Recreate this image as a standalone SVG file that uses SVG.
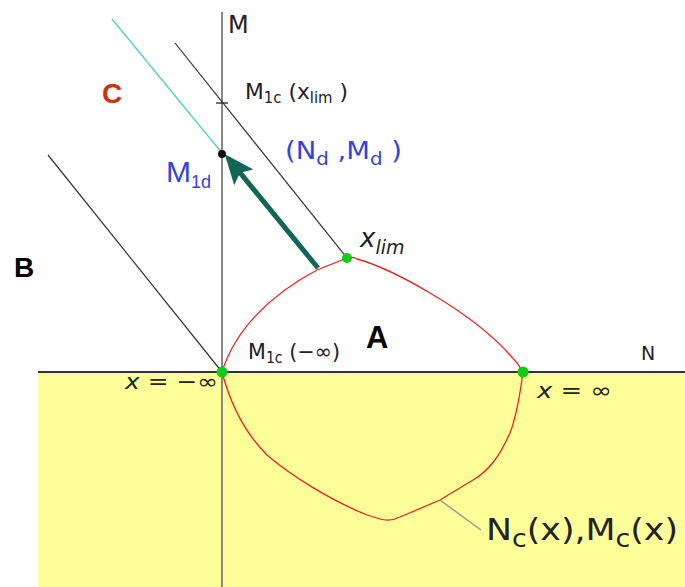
<svg xmlns="http://www.w3.org/2000/svg" width="685" height="587" viewBox="0 0 685 587">
<style>
text{font-family:"DejaVu Sans","Liberation Sans",sans-serif;fill:#222}
.blue{fill:#3344dd}
.b{font-family:"Liberation Sans",Arial,sans-serif;font-weight:bold}
.it{font-style:italic}
.diag{stroke:#333;stroke-width:1.2;fill:none}
.dot{fill:#11cc11}
</style>
<defs>
<marker id="ah" markerWidth="6" markerHeight="5" refX="5" refY="2.5" orient="auto" markerUnits="strokeWidth">
<path d="M0,0 L6,2.5 L0,5 L1.2,2.5 Z" fill="#116655"/>
</marker>
</defs>
<rect id="region" x="38" y="372" width="647" height="215" fill="#ffff99"/>
<g id="connectors">
<line id="axisM" x1="222" y1="12" x2="222" y2="587" stroke="#888" stroke-width="2"/>
<line id="axisN" x1="38" y1="372" x2="685" y2="372" stroke="#333" stroke-width="2"/>
<line id="lineB" class="diag" x1="48" y1="155" x2="222" y2="372"/>
<line id="lineUpper" class="diag" x1="175" y1="43" x2="347" y2="258"/>
<line id="lineC" x1="112" y1="19" x2="222" y2="153" stroke="#55cccc" stroke-width="1.3"/>
<line id="tick" x1="216" y1="103" x2="228" y2="103" stroke="#222" stroke-width="1.3"/>
<path id="curve" d="M222,372 C235,330 270,295 317,270 L347,258 Q352,256 357,259 C390,268 470,310 510,355 Q518,363 523,372 C520,395 515,420 510,433 C500,455 490,470 473,480 L440,500 L400,517 Q390,522 380,519 L367,515 C330,500 290,475 267,455 C250,438 232,410 222,372 Z" fill="none" stroke="#ee2222" stroke-width="1.3"/>
<line id="leader" x1="440" y1="500" x2="481" y2="530" stroke="#999" stroke-width="1.5"/>
<line id="arrow" x1="318" y1="268" x2="228" y2="158" stroke="#116655" stroke-width="5" marker-end="url(#ah)"/>
</g>
<g id="pt-xlim"><circle class="dot" cx="347" cy="258" r="5"/></g>
<g id="pt-minf"><circle class="dot" cx="222" cy="372" r="5.5"/></g>
<g id="pt-inf"><circle class="dot" cx="523" cy="372" r="5.5"/></g>
<g id="pt-M1d"><circle cx="222" cy="154" r="4" fill="#111"/></g>
<g id="labels">
<text x="228" y="33" font-size="24">M</text>
<text x="102" y="103" font-size="28" class="b" style="fill:#cc3311">C</text>
<text x="14" y="277" font-size="28" class="b" style="fill:#000">B</text>
<text x="366" y="348" font-size="31" class="b" style="fill:#000">A</text>
<text x="245" y="99" font-size="22" textLength="103" lengthAdjust="spacingAndGlyphs">M<tspan font-size="15" dy="4">1c</tspan><tspan dy="-4"> (x</tspan><tspan font-size="15" dy="4">lim</tspan><tspan dy="-4"> )</tspan></text>
<text x="285" y="159" font-size="25" class="blue" textLength="117" lengthAdjust="spacingAndGlyphs">(N<tspan font-size="18" dy="6">d</tspan><tspan dy="-6"> ,M</tspan><tspan font-size="18" dy="6">d</tspan><tspan dy="-6"> )</tspan></text>
<text x="166" y="182" font-size="30" class="blue" style="font-family:'Liberation Sans',Arial,sans-serif">M<tspan font-size="18" dy="6">1d</tspan></text>
<text x="360" y="247" font-size="26" class="it">x<tspan font-size="19" dy="7">lim</tspan></text>
<text x="248" y="359" font-size="22" textLength="92" lengthAdjust="spacingAndGlyphs">M<tspan font-size="15" dy="4">1c</tspan><tspan dy="-4"> (−∞)</tspan></text>
<text x="641" y="360" font-size="19">N</text>
<text x="125" y="389" font-size="21" textLength="93" lengthAdjust="spacingAndGlyphs"><tspan class="it">x</tspan> = −∞</text>
<text x="537" y="398" font-size="22" textLength="75" lengthAdjust="spacingAndGlyphs"><tspan class="it">x</tspan> = ∞</text>
<text x="486" y="540" font-size="31" textLength="192" lengthAdjust="spacingAndGlyphs">N<tspan font-size="24" dy="7">c</tspan><tspan dy="-7">(x),M</tspan><tspan font-size="24" dy="7">c</tspan><tspan dy="-7">(x)</tspan></text>
</g>
</svg>
